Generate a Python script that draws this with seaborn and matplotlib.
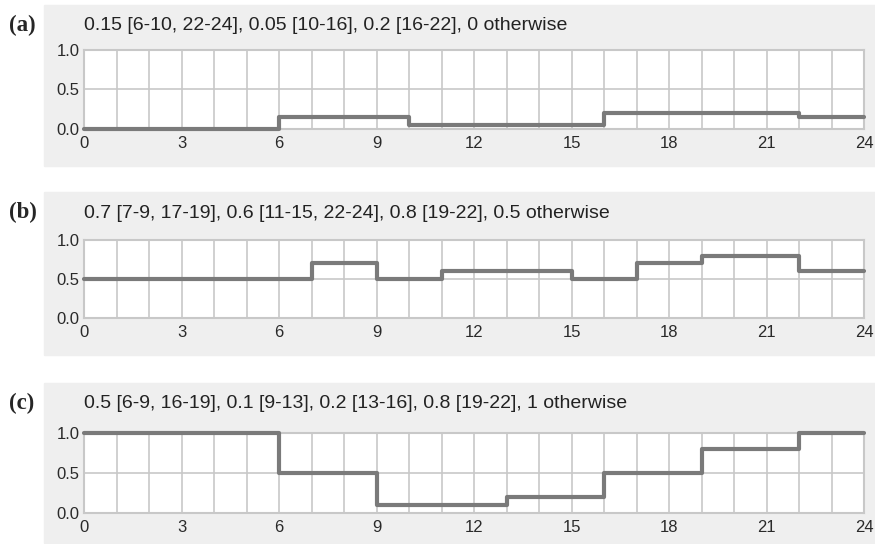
import numpy as np
import seaborn as sns
from matplotlib import pyplot as plt
from matplotlib.patches import Rectangle

# step profiles: hour where each level starts, last point closes the day
a_hours = [0, 6, 10, 16, 22, 24]
a_levels = [0, 0.15, 0.05, 0.2, 0.15, 0.15]
b_hours = [0, 7, 9, 11, 15, 17, 19, 22, 24]
b_levels = [0.5, 0.7, 0.5, 0.6, 0.5, 0.7, 0.8, 0.6, 0.6]
c_hours = [0, 6, 9, 13, 16, 19, 22, 24]
c_levels = [1, 0.5, 0.1, 0.2, 0.5, 0.8, 1, 1]

panel_tags = ['(a)', '(b)', '(c)']
panel_titles = [
    '0.15 [6-10, 22-24], 0.05 [10-16], 0.2 [16-22], 0 otherwise',
    '0.7 [7-9, 17-19], 0.6 [11-15, 22-24], 0.8 [19-22], 0.5 otherwise',
    '0.5 [6-9, 16-19], 0.1 [9-13], 0.2 [13-16], 0.8 [19-22], 1 otherwise',
]
x_ticks = [0, 3, 6, 9, 12, 15, 18, 21, 24]
y_ticks = [0.0, 0.5, 1.0]

W, H = 875, 544
sns.set_style('white')
plt.rcParams['font.family'] = ['Liberation Sans', 'DejaVu Sans']
fig = plt.figure(figsize=(W / 100, H / 100), dpi=100)

# pixel layout: (box top, box bottom, plot top, plot bottom)
boxes = [(5, 166, 50, 129), (192, 355, 240, 318), (383, 543, 433, 513)]
px_left, px_right = 84, 864
grid_c = '#c8c8c8'
line_c = '#7a7a7a'

for i, (hours, levels) in enumerate([(a_hours, a_levels), (b_hours, b_levels), (c_hours, c_levels)]):
    btop, bbot, ptop, pbot = boxes[i]
    fig.add_artist(Rectangle((44 / W, 1 - bbot / H), (W - 44) / W, (bbot - btop) / H,
                             transform=fig.transFigure, color='#efefef', zorder=0))
    fig.text(9 / W, 1 - (btop + 20) / H, panel_tags[i], family='Liberation Serif',
             fontweight='bold', fontsize=16.5, va='center', ha='left')
    fig.text(px_left / W, 1 - (btop + 21) / H, panel_titles[i], fontsize=14,
             va='center', ha='left', color='#222222')

    ax = fig.add_axes([px_left / W, 1 - pbot / H, (px_right - px_left) / W, (pbot - ptop) / H])
    ax.set_facecolor('white')
    sns.lineplot(x=hours, y=levels, ax=ax, drawstyle='steps-post', color=line_c,
                 linewidth=3, estimator=None, clip_on=False, zorder=3)
    ax.set_xlim(0, 24)
    ax.set_ylim(0, 1)
    ax.set_xticks(range(25), minor=True)
    ax.set_xticks(x_ticks)
    ax.set_yticks(y_ticks)
    ax.set_yticklabels([f'{v:.1f}' for v in y_ticks])
    ax.grid(True, which='both', axis='x', color=grid_c, linewidth=1.2)
    ax.grid(True, which='major', axis='y', color=grid_c, linewidth=1.2)
    ax.tick_params(axis='both', which='both', length=0, labelsize=12, colors='#2a2a2a')
    ax.tick_params(axis='x', pad=5)
    ax.tick_params(axis='y', pad=3)
    for s in ax.spines.values():
        s.set_color(grid_c)
        s.set_linewidth(1.5)
    ax.set_xlabel('')
    ax.set_ylabel('')

fig.savefig('out.png', dpi=100)
